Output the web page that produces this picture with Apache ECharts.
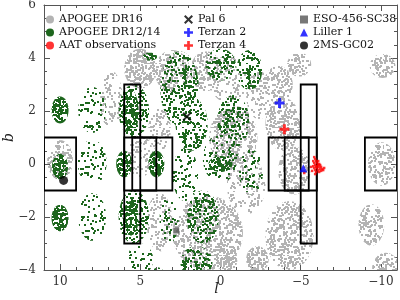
<!DOCTYPE html>
<html><head><meta charset="utf-8">
<script src="https://cdn.jsdelivr.net/npm/echarts@6/dist/echarts.min.js"></script>
<style>html,body{margin:0;padding:0;background:#fff}#c{width:400px;height:300px}</style>
</head><body><div id="c"></div>
<script>
// ---- data ----
const lTickLabels = [10, 5, 0, -5, -10];
// APOGEE DR16 fields: [l, b, radius_l, radius_b, density level]
const dr16Fields = [
  [10.0, 0.15, 0.8, 0.75, 2],
  [5.0, 3.6, 1.0, 0.75, 3],
  [6.8, 2.4, 0.7, 1.1, 1],
  [3.0, 3.5, 1.1, 0.8, 2],
  [0.9, 3.5, 1.0, 0.75, 2],
  [-0.5, 3.2, 1.2, 0.9, 1],
  [3.8, 1.3, 0.7, 0.8, 1],
  [5.0, 0.3, 0.8, 0.8, 1],
  [-0.8, 1.0, 1.5, 1.2, 2],
  [-2.4, 2.6, 0.8, 0.9, 1],
  [-3.9, 1.5, 1.1, 1.0, 2],
  [-3.6, 3.0, 0.9, 0.7, 2],
  [-4.9, 3.75, 0.75, 0.45, 2],
  [-10.1, 3.7, 0.8, 0.45, 2],
  [-10.05, 0.0, 0.85, 0.82, 2],
  [-9.4, -2.3, 0.8, 0.78, 2],
  [-10.3, -3.95, 0.85, 0.6, 2],
  [-4.6, -0.25, 1.0, 0.9, 2],
  [-4.3, -2.7, 1.5, 1.3, 2],
  [-1.6, -0.8, 1.2, 1.1, 1],
  [0.8, -2.6, 2.2, 1.4, 2],
  [3.8, -2.2, 0.8, 1.1, 1],
  [-0.4, -3.6, 0.65, 0.5, 3],
  [-2.3, -3.6, 0.7, 0.5, 3]
];
// APOGEE DR12/14 fields: [l, b, radius_l, radius_b, density level]
const dr1214Fields = [
  [10.0, 2.04, 0.53, 0.51, 3],
  [10.0, -0.1, 0.5, 0.48, 3],
  [10.0, -2.04, 0.53, 0.5, 3],
  [8.0, 2.04, 0.87, 0.87, 1],
  [8.0, 0.05, 0.9, 0.86, 1],
  [8.0, -2.0, 0.87, 0.9, 1],
  [6.0, 0.0, 0.5, 0.5, 3],
  [4.0, 0.0, 0.5, 0.5, 3],
  [5.4, 2.0, 0.95, 1.0, 2],
  [5.6, 1.95, 0.5, 0.85, 3],
  [5.4, -2.0, 0.95, 1.0, 2],
  [5.6, -2.05, 0.5, 0.65, 3],
  [5.0, -3.6, 0.8, 0.6, 1],
  [3.9, -4.3, 0.45, 0.4, 3],
  [4.4, 4.05, 0.45, 0.15, 3],
  [2.55, 2.85, 1.2, 1.4, 2],
  [0.0, 3.75, 0.95, 0.6, 2],
  [-1.8, 3.55, 0.8, 0.75, 2],
  [1.8, 1.5, 1.0, 1.0, 2],
  [-0.8, 1.6, 1.0, 1.0, 2],
  [0.0, 0.2, 1.1, 0.9, 1],
  [0.0, 0.0, 0.75, 0.3, 3],
  [-1.9, -0.3, 0.75, 0.85, 1],
  [2.2, -0.4, 0.8, 1.0, 1],
  [1.1, -2.0, 1.0, 1.0, 2],
  [3.2, -2.1, 0.6, 0.9, 1],
  [1.5, -3.7, 1.0, 0.6, 2]
];
// boxes: [l1, l2, b1, b2]
const boxes = [
  [9, 11, -1, 1], [3, 6, -1, 1], [4, 5.5, -1, 1], [5, 6, -3, 3],
  [-3, -6, -1, 1], [-4, -5.5, -1, 1], [-5, -6, -3, 3], [-9, -11, -1, 1]
];
const aatPoints = [
  [-5.84,0.26],[-5.90,0.19],[-5.78,0.11],[-5.96,0.11],[-5.84,0.04],[-6.02,0.04],
  [-5.90,-0.04],[-6.09,-0.04],[-6.21,-0.04],[-5.78,-0.08],[-5.96,-0.11],[-6.15,-0.11],
  [-6.27,-0.11],[-5.84,-0.15],[-6.02,-0.15],[-6.21,-0.19],[-6.34,-0.19],[-5.90,-0.23],
  [-6.09,-0.23],[-6.27,-0.26],[-5.96,-0.30],[-6.15,-0.30],[-6.40,-0.23],[-5.71,-0.26],
  [-6.02,-0.08],[-6.15,0.0],[-5.90,-0.38],[-6.46,-0.15],[-5.65,-0.11],[-6.09,0.11],
  [-5.22,-0.34]
];
const pal6 = [[2.09, 1.79]];
const terzan2 = [[-3.68, 2.30]];
const terzan4 = [[-3.98, 1.31]];
const eso456 = [[2.76, -2.51]];
const liller1 = [[-5.16, -0.16]];
const gc02 = [[9.78, -0.62]];

// ---- styles ----
const FONT = 'DejaVu Serif';
const GRAY = '#b3b3b3', GREEN = '#1d661d';
const XPATH = 'path://M0,1.6L1.6,0L5,3.4L8.4,0L10,1.6L6.6,5L10,8.4L8.4,10L5,6.6L1.6,10L0,8.4L3.4,5Z';
const PLUS = 'path://M3.5,0H6.5V3.5H10V6.5H6.5V10H3.5V6.5H0V3.5H3.5Z';

// speckle texture for the field fills (purely decorative, fixed integer hash)
function ihash(a) {
  a = (a + 0x6D2B79F5) | 0;
  let t = Math.imul(a ^ (a >>> 15), 1 | a);
  t = (t + Math.imul(t ^ (t >>> 7), 61 | t)) ^ t;
  return ((t ^ (t >>> 14)) >>> 0) / 4294967296;
}
function makePattern(color, n, seed) {
  const S = 64, cv = document.createElement('canvas');
  cv.width = S; cv.height = S;
  const ctx = cv.getContext('2d');
  ctx.fillStyle = color;
  for (let i = 0; i < n; i++) {
    const x = ihash(seed + i * 2) * S, y = ihash(seed + i * 2 + 1) * S;
    ctx.fillRect(Math.floor(x), Math.floor(y), 2, 2);
  }
  return { image: cv, repeat: 'repeat' };
}
const grayPat = { 1: makePattern(GRAY, 330, 17), 2: makePattern(GRAY, 620, 17), 3: makePattern(GRAY, 950, 17) };
const greenPat = { 1: makePattern(GREEN, 220, 90001), 2: makePattern(GREEN, 480, 90001), 3: makePattern(GREEN, 1200, 90001) };

function fieldRenderer(pats) {
  return function (params, api) {
    const c = api.coord([api.value(0), api.value(1)]);
    const s = api.size([api.value(2), api.value(3)]);
    const rx = Math.abs(s[0]), ry = Math.abs(s[1]);
    const pts = [];
    for (let k = 0; k < 48; k++) {
      const t = k / 48 * 2 * Math.PI;
      pts.push([c[0] + rx * Math.cos(t), c[1] + ry * Math.sin(t)]);
    }
    return { type: 'polygon', shape: { points: pts }, style: { fill: pats[api.value(4)], stroke: null } };
  };
}
const minus = v => v < 0 ? '\u2212' + Math.abs(v) : String(v);
const gridRect = { left: 44, right: 3, top: 5, bottom: 30, outerBoundsMode: 'none', containLabel: false };
const axisLineStyle = { onZero: false, lineStyle: { color: '#555', width: 1 } };

function xAx(grid, pos, major) {
  const o = {
    type: 'value', gridIndex: grid, position: pos, min: -11, max: 11, interval: 1, inverse: true,
    axisLine: major ? axisLineStyle : { show: false, onZero: false },
    splitLine: { show: false },
    axisTick: { show: true, inside: true, length: major ? 6 : 3, lineStyle: { color: '#555' } },
    axisLabel: { show: false }
  };
  if (major) o.axisTick.customValues = lTickLabels;
  return o;
}

const option = {
  animation: false,
  backgroundColor: '#fff',
  grid: [Object.assign({}, gridRect), Object.assign({}, gridRect)],
  xAxis: [
    Object.assign(xAx(0, 'bottom', true), {
      axisLabel: { show: true, customValues: lTickLabels, formatter: minus, fontFamily: FONT, fontSize: 12, color: '#333', margin: 6 },
      name: 'l', nameLocation: 'middle', nameGap: 12, nameMoveOverlap: false,
      nameTextStyle: { fontFamily: FONT, fontStyle: 'italic', fontSize: 14, color: '#222', padding: [0, 8, 0, 0] }
    }),
    xAx(0, 'top', true),
    xAx(1, 'bottom', false),
    xAx(1, 'top', false)
  ],
  yAxis: [
    {
      type: 'value', gridIndex: 0, position: 'left', min: -4, max: 6, interval: 2,
      axisLine: axisLineStyle, splitLine: { show: false },
      axisTick: { inside: true, length: 6, lineStyle: { color: '#555' } },
      minorTick: { show: true, splitNumber: 4, length: 3, lineStyle: { color: '#555' } },
      axisLabel: { formatter: minus, fontFamily: FONT, fontSize: 12, color: '#333', margin: 8 },
      name: 'b', nameLocation: 'middle', nameGap: 28, nameMoveOverlap: false,
      nameTextStyle: { fontFamily: FONT, fontStyle: 'italic', fontSize: 14, color: '#222' }
    },
    {
      type: 'value', gridIndex: 0, position: 'right', min: -4, max: 6, interval: 2,
      axisLine: axisLineStyle, splitLine: { show: false },
      axisTick: { inside: true, length: 6, lineStyle: { color: '#555' } },
      minorTick: { show: true, splitNumber: 4, length: 3, lineStyle: { color: '#555' } },
      axisLabel: { show: false }
    },
    { type: 'value', gridIndex: 1, min: -4, max: 6, show: false, axisLine: { onZero: false } }
  ],
  legend: [
    {
      orient: 'vertical', left: 46, top: 13, itemWidth: 8, itemHeight: 8, itemGap: 0, padding: 0,
      selectedMode: false,
      textStyle: { fontFamily: FONT, fontSize: 11, color: '#111', lineHeight: 13 },
      data: [
        { name: 'APOGEE DR16', icon: 'circle', itemStyle: { color: GRAY } },
        { name: 'APOGEE DR12/14', icon: 'circle', itemStyle: { color: GREEN } },
        { name: 'AAT observations', icon: 'circle', itemStyle: { color: '#ff0000' } }
      ]
    },
    {
      orient: 'vertical', left: 184, top: 13, itemWidth: 9, itemHeight: 9, itemGap: 0, padding: 0,
      selectedMode: false,
      textStyle: { fontFamily: FONT, fontSize: 11, color: '#111', lineHeight: 13 },
      data: [
        { name: 'Pal 6', icon: XPATH, itemStyle: { color: '#000' } },
        { name: 'Terzan 2', icon: PLUS, itemStyle: { color: '#0000ff' } },
        { name: 'Terzan 4', icon: PLUS, itemStyle: { color: '#ff0000' } }
      ]
    },
    {
      orient: 'vertical', left: 300, top: 13, itemWidth: 8, itemHeight: 8, itemGap: 0, padding: 0,
      selectedMode: false,
      textStyle: { fontFamily: FONT, fontSize: 11, color: '#111', lineHeight: 13 },
      data: [
        { name: 'ESO-456-SC38', icon: 'rect', itemStyle: { color: '#555' } },
        { name: 'Liller 1', icon: 'triangle', itemStyle: { color: '#0000ff' } },
        { name: '2MS-GC02', icon: 'circle', itemStyle: { color: '#000' } }
      ]
    }
  ],
  series: [
    { name: 'APOGEE DR16', type: 'custom', xAxisIndex: 0, yAxisIndex: 0, clip: true, z: 1,
      itemStyle: { color: GRAY }, renderItem: fieldRenderer(grayPat), data: dr16Fields },
    { name: 'APOGEE DR12/14', type: 'custom', xAxisIndex: 0, yAxisIndex: 0, clip: true, z: 2,
      itemStyle: { color: GREEN }, renderItem: fieldRenderer(greenPat), data: dr1214Fields },
    { name: 'boxes', type: 'custom', xAxisIndex: 0, yAxisIndex: 0, clip: true, z: 3,
      encode: { x: [0, 1], y: [2, 3] },
      renderItem: function (params, api) {
        const a = api.coord([api.value(0), api.value(2)]);
        const b = api.coord([api.value(1), api.value(3)]);
        return { type: 'rect', shape: { x: Math.min(a[0], b[0]), y: Math.min(a[1], b[1]),
          width: Math.abs(a[0] - b[0]), height: Math.abs(a[1] - b[1]) },
          style: { fill: null, stroke: '#000', lineWidth: 1.8 } };
      },
      data: boxes },
    { name: 'AAT observations', type: 'scatter', z: 5, symbol: 'rect', symbolSize: 2.5,
      itemStyle: { color: '#ff0000' }, data: aatPoints },
    { name: 'Pal 6', type: 'scatter', z: 6, symbol: XPATH, symbolSize: 9, itemStyle: { color: '#000' }, data: pal6 },
    { name: 'Terzan 2', type: 'scatter', z: 6, symbol: PLUS, symbolSize: 10, itemStyle: { color: '#0000ff' }, data: terzan2 },
    { name: 'Terzan 4', type: 'scatter', z: 6, symbol: PLUS, symbolSize: 10, itemStyle: { color: '#ff0000' }, data: terzan4 },
    { name: 'ESO-456-SC38', type: 'scatter', z: 6, symbol: 'rect', symbolSize: 6, itemStyle: { color: '#555' }, data: eso456 },
    { name: 'Liller 1', type: 'scatter', z: 6, symbol: 'triangle', symbolSize: 8, itemStyle: { color: '#0000ff' }, data: liller1 },
    { name: '2MS-GC02', type: 'scatter', z: 6, symbol: 'circle', symbolSize: 9, itemStyle: { color: '#000' }, data: gc02 }
  ]
};
const chart = echarts.init(document.getElementById('c'), null, { renderer: 'canvas' });
chart.setOption(option);
</script>
</body></html>
